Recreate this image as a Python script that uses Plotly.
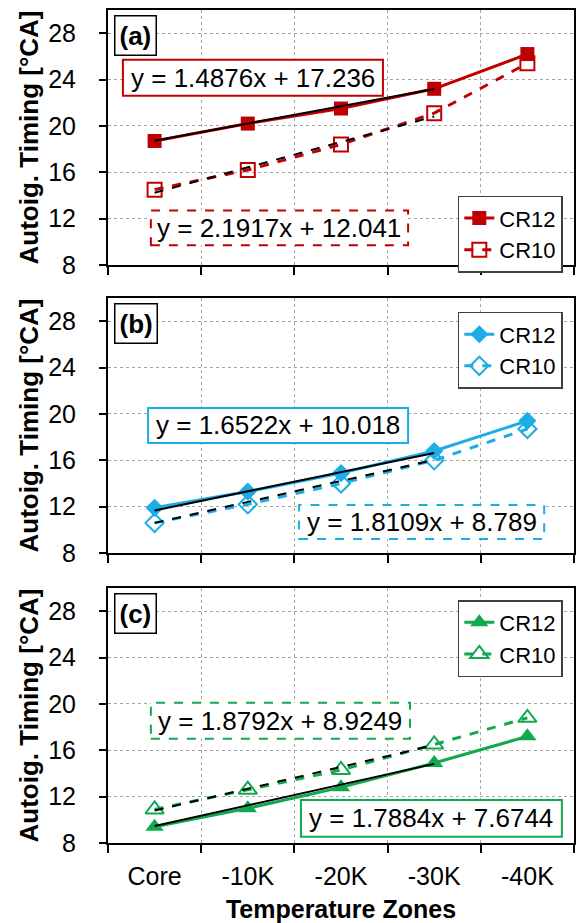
import plotly.graph_objects as go
from plotly.subplots import make_subplots

zones = ["Core", "-10K", "-20K", "-30K", "-40K"]

a_cr12 = [18.7, 20.2, 21.5, 23.2, 26.2]
a_cr10 = [14.5, 16.2, 18.4, 21.1, 25.4]
b_cr12 = [11.9, 13.3, 14.9, 16.8, 19.4]
b_cr10 = [10.6, 12.2, 14.0, 16.0, 18.7]
c_cr12 = [9.4, 11.0, 12.8, 14.9, 17.2]
c_cr10 = [10.9, 12.6, 14.3, 16.5, 18.8]

# linear trendline coefficients (slope, intercept), fitted over Core..-30K
a_fit12 = (1.4876, 17.236)
a_fit10 = (2.1917, 12.041)
b_fit12 = (1.6522, 10.018)
b_fit10 = (1.8109, 8.789)
c_fit12 = (1.7884, 7.6744)
c_fit10 = (1.8792, 8.9249)

y_ticks = [8, 12, 16, 20, 24, 28]

RED = "#C00000"
BLUE = "#1DADE6"
GREEN = "#12A84F"
FONT = "Liberation Sans, Arial, sans-serif"

fig = make_subplots(rows=3, cols=1, vertical_spacing=0.04)

panels = [
    dict(row=1, color=RED, d12=a_cr12, d10=a_cr10, f12=a_fit12, f10=a_fit10,
         s12="square", s10="square-open", ms=14, legend="legend", label="(a)"),
    dict(row=2, color=BLUE, d12=b_cr12, d10=b_cr10, f12=b_fit12, f10=b_fit10,
         s12="diamond", s10="diamond-open", ms=14, legend="legend2", label="(b)"),
    dict(row=3, color=GREEN, d12=c_cr12, d10=c_cr10, f12=c_fit12, f10=c_fit10,
         s12="triangle-up", s10="triangle-up-open", ms=16, legend="legend3", label="(c)"),
]

for p in panels:
    r = p["row"]
    fig.add_trace(go.Scatter(x=zones, y=p["d12"], name="CR12", mode="lines+markers",
                             line=dict(color=p["color"], width=3),
                             marker=dict(symbol=p["s12"], size=p["ms"], color=p["color"]),
                             legend=p["legend"]), row=r, col=1)
    fig.add_trace(go.Scatter(x=zones, y=p["d10"], name="CR10", mode="lines+markers",
                             line=dict(color=p["color"], width=3, dash="dash"),
                             marker=dict(symbol=p["s10"], size=p["ms"], color=p["color"],
                                         line=dict(width=2, color=p["color"])),
                             legend=p["legend"]), row=r, col=1)
    for fit, dash in ((p["f12"], "solid"), (p["f10"], "dash")):
        m, b = fit
        xs = zones[:4]
        ys = [m * (i + 1) + b for i in range(4)]
        fig.add_trace(go.Scatter(x=xs, y=ys, mode="lines", showlegend=False,
                                 line=dict(color="black", width=2, dash=dash),
                                 hoverinfo="skip"), row=r, col=1)

# equation boxes: (row, text, x0, x1, y0, y1, dash)
boxes = [
    (1, "y = 1.4876x + 17.236", -0.34, 2.45, 22.6, 25.7, "solid", RED),
    (1, "y = 2.1917x + 12.041", -0.04, 2.72, 9.7, 12.7, "dash", RED),
    (2, "y = 1.6522x + 10.018", -0.07, 2.72, 17.5, 20.5, "solid", BLUE),
    (2, "y = 1.8109x + 8.789", 1.55, 4.18, 9.2, 12.15, "dash", BLUE),
    (3, "y = 1.8792x + 8.9249", -0.04, 2.74, 17.0, 20.1, "dash", GREEN),
    (3, "y = 1.7884x + 7.6744", 1.57, 4.37, 8.55, 11.7, "solid", GREEN),
]
for row, txt, x0, x1, y0, y1, dash, col in boxes:
    sfx = "" if row == 1 else str(row)
    fig.add_shape(type="rect", xref="x" + sfx, yref="y" + sfx, x0=x0, x1=x1, y0=y0, y1=y1,
                  line=dict(color=col, width=2, dash=dash), fillcolor="white", layer="above")
    fig.add_annotation(xref="x" + sfx, yref="y" + sfx, x=(x0 + x1) / 2, y=(y0 + y1) / 2,
                       text=txt, showarrow=False, font=dict(family=FONT, size=26, color="black"))

for p in panels:
    sfx = "" if p["row"] == 1 else str(p["row"])
    fig.add_annotation(xref=f"x{sfx} domain", yref=f"y{sfx} domain", x=0.012, y=0.98,
                       xanchor="left", yanchor="top", text="<b>" + p["label"] + "</b>",
                       showarrow=False, bordercolor="black", borderwidth=1.5, borderpad=4,
                       bgcolor="white", font=dict(family=FONT, size=26, color="black"))

# domains in paper coordinates
domains = [(0.6939, 1.0), (0.3481, 0.6543), (0.0, 0.3061)]
for i, dom in enumerate(domains, start=1):
    fig.update_yaxes(domain=list(dom), row=i, col=1)

fig.update_yaxes(range=[8, 30], tickvals=y_ticks, showgrid=True, gridcolor="#A6A6A6",
                 griddash="dot", gridwidth=1, showline=True, linecolor="black", linewidth=2,
                 mirror=True, ticks="outside", ticklen=7, tickwidth=2, tickcolor="black",
                 ticklabelstandoff=18,
                 tickfont=dict(family=FONT, size=25, color="black"), zeroline=False,
                 title=dict(text="<b>Autoig. Timing [°CA]</b>", standoff=2,
                            font=dict(family=FONT, size=26, color="black")))
fig.update_xaxes(type="category", range=[-0.5, 4.5], tickson="boundaries", showgrid=True,
                 gridcolor="#A6A6A6", griddash="dot", gridwidth=1, showline=True,
                 linecolor="black", linewidth=2, mirror=True, ticks="outside", ticklen=8,
                 tickwidth=2, tickcolor="black", ticklabelstandoff=10,
                 tickfont=dict(family=FONT, size=25, color="black"), zeroline=False)
fig.update_xaxes(showticklabels=False, row=1, col=1)
fig.update_xaxes(showticklabels=False, row=2, col=1)
fig.update_xaxes(title=dict(text="<b>Temperature Zones</b>", standoff=12,
                            font=dict(family=FONT, size=25, color="black")), row=3, col=1)

legend_style = dict(bgcolor="white", bordercolor="#404040", borderwidth=1.5,
                    font=dict(family=FONT, size=22, color="black"), xanchor="right",
                    yanchor="top", tracegroupgap=0, itemwidth=30)

fig.update_layout(
    width=579, height=923,
    margin=dict(l=108, r=3, t=10, b=80),
    plot_bgcolor="white", paper_bgcolor="white",
    font=dict(family=FONT, color="black"),
    legend=dict(x=0.976, y=0.777, **legend_style),
    legend2=dict(x=0.976, y=0.6375, **legend_style),
    legend3=dict(x=0.976, y=0.2917, **legend_style),
)

fig.write_html("out.html")
